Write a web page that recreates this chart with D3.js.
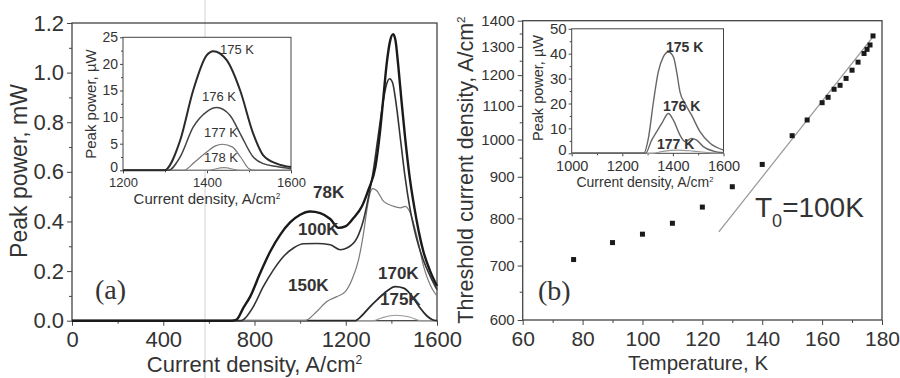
<!DOCTYPE html>
<html><head><meta charset="utf-8">
<script src="https://cdn.jsdelivr.net/npm/d3@7/dist/d3.min.js"></script>
<style>
html,body{margin:0;padding:0;background:#fff;}
text{font-family:"Liberation Sans",Arial,sans-serif;fill:#333;}
</style></head><body>
<svg id="c" width="900" height="378"></svg>
<script>
// ---------- DATA ----------
// Panel (a) main: peak power (mW) vs current density (A/cm2)
const curve78K = [[0,0],[700,0],[722,0.005],[750,0.05],[781,0.097],[825,0.192],[869,0.279],[913,0.347],[956,0.396],[1000,0.427],[1044,0.44],[1088,0.434],[1132,0.41],[1168,0.374],[1198,0.38],[1234,0.414],[1271,0.461],[1300,0.529],[1330,0.62],[1350,0.76],[1365,0.9],[1380,1.04],[1395,1.13],[1408,1.155],[1418,1.13],[1430,1.03],[1445,0.88],[1460,0.74],[1480,0.58],[1500,0.46],[1520,0.36],[1540,0.28],[1570,0.2],[1600,0.14]];
const curve100K = [[0,0],[740,0],[752,0.005],[795,0.057],[839,0.138],[883,0.205],[927,0.259],[971,0.293],[1015,0.31],[1073,0.311],[1132,0.306],[1176,0.286],[1205,0.293],[1249,0.333],[1278,0.407],[1300,0.5],[1320,0.6],[1340,0.73],[1360,0.86],[1378,0.95],[1392,0.975],[1405,0.96],[1420,0.88],[1440,0.73],[1460,0.58],[1480,0.46],[1500,0.37],[1520,0.3],[1540,0.245],[1570,0.18],[1600,0.125]];
const curve150K = [[0,0],[1020,0],[1030,0.003],[1073,0.037],[1117,0.077],[1161,0.097],[1198,0.117],[1227,0.165],[1256,0.245],[1278,0.353],[1293,0.448],[1307,0.515],[1318,0.532],[1335,0.525],[1366,0.481],[1410,0.461],[1439,0.455],[1461,0.461],[1483,0.434],[1512,0.34],[1541,0.22],[1578,0.13],[1600,0.1]];
const curve170K = [[0,0],[1240,0],[1270,0.02],[1307,0.057],[1337,0.084],[1381,0.12],[1417,0.137],[1454,0.131],[1498,0.09],[1527,0.05],[1555,0.02],[1578,0.005],[1600,0]];
const curve175K = [[0,0],[1320,0],[1360,0.012],[1420,0.022],[1480,0.015],[1530,0],[1600,0]];
const mainLabels = ["78K","100K","150K","170K","175K"];

// Panel (a) inset: peak power (uW)
const inA175 = [[1200,0],[1298,0],[1336,5.6],[1367,15],[1399,21.6],[1415,22.4],[1447,20.7],[1479,15],[1510,6.9],[1534,2.8],[1566,1.25],[1600,0.6]];
const inA176 = [[1200,0],[1308,0],[1336,2.5],[1367,8.1],[1399,11],[1423,11.8],[1455,10.3],[1479,6.9],[1510,2.5],[1534,1.25],[1566,0.7],[1600,0.3]];
const inA177 = [[1200,0],[1345,0],[1370,1.5],[1400,3.5],[1420,4.6],[1437,4.9],[1460,4.4],[1480,2.5],[1500,0.3],[1515,0],[1600,0]];
const inA178 = [[1200,0],[1400,0],[1440,0.5],[1480,0],[1600,0]];
const inALabels = ["175 K","176 K","177 K","178 K"];

// Panel (b): threshold current density vs temperature
const temps = [77,90,100,110,120,130,140,150,155,160,162,164,166,168,170,172,174,175,176,177];
const jth   = [712,747,765,789,826,875,932,1011,1057,1110,1127,1153,1166,1189,1217,1245,1276,1291,1307,1341];
const fitLine = [[125.5,770],[177.5,1345]];

// Panel (b) inset
const inB175 = [[1000,0],[1285,0],[1303,6],[1323,20.6],[1342,32.6],[1362,38.7],[1382,40.7],[1402,38.7],[1415,32.6],[1428,24.7],[1448,20],[1474,15.3],[1507,8.7],[1547,4],[1600,1.3]];
const inB176 = [[1000,0],[1292,0],[1316,5.3],[1336,8.7],[1356,12],[1382,16],[1402,13.3],[1428,7.3],[1448,4.7],[1474,6],[1494,5.3],[1520,2.7],[1560,0.9],[1600,0.2]];
const inB177 = [[1000,0],[1320,0],[1360,0.8],[1420,1.3],[1480,0.9],[1540,0.3],[1600,0.1]];
const inBLabels = ["175 K","176 K","177 K"];

// Tick values
const aXTicks = [0,400,800,1200,1600];
const aYTicks = [0,0.2,0.4,0.6,0.8,1.0,1.2];
const aiXTicks = [1200,1400,1600];
const aiYTicks = [0,5,10,15,20,25];
const bXTicks = [60,80,100,120,140,160,180];
const bYTicks = [600,700,800,900,1000,1100,1200,1300,1400];
const biXTicks = [1000,1200,1400,1600];
const biYTicks = [0,10,20,30,40,50];

// ---------- DRAW ----------
const svg = d3.select("#c");
const AX = "#444";

function box(x0,x1,y0,y1,sw){
  svg.append("rect").attr("x",x0).attr("y",y1).attr("width",x1-x0).attr("height",y0-y1)
    .attr("fill","none").attr("stroke",AX).attr("stroke-width",sw);
}
function styleAxis(g,fs){
  g.select(".domain").remove();
  g.selectAll("line").attr("stroke",AX).attr("stroke-width",1);
  g.selectAll("text").attr("font-size",fs).attr("fill","#333").style("font-family","'Liberation Sans',Arial,sans-serif");
}
function drawAxes(xs,ys,xt,yt,xminor,yminor,opt){
  const [x0,x1]=xs.range(), [y0,y1]=ys.range();
  const gxm = svg.append("g").attr("transform",`translate(0,${y0})`)
    .call(d3.axisBottom(xs).tickValues(xminor).tickSize(opt.minor).tickFormat(""));
  styleAxis(gxm,opt.xfs);
  const gym = svg.append("g").attr("transform",`translate(${x0},0)`)
    .call(d3.axisLeft(ys).tickValues(yminor).tickSize(opt.minor).tickFormat(""));
  styleAxis(gym,opt.yfs);
  const gx = svg.append("g").attr("transform",`translate(0,${y0})`)
    .call(d3.axisBottom(xs).tickValues(xt).tickSize(opt.major).tickPadding(opt.xpad).tickFormat(opt.xfmt||d3.format("d")));
  styleAxis(gx,opt.xfs);
  const gy = svg.append("g").attr("transform",`translate(${x0},0)`)
    .call(d3.axisLeft(ys).tickValues(yt).tickSize(opt.major).tickPadding(opt.ypad).tickFormat(opt.yfmt||d3.format("d")));
  styleAxis(gy,opt.yfs);
  if(opt.y0shift){ gy.selectAll(".tick").filter(d=>d===yt[0]).select("text").attr("dy","0.1em"); }
  box(x0,x1,y0,y1,opt.sw);
}
function curve(data,xs,ys,color,w){
  const line = d3.line().x(d=>xs(d[0])).y(d=>ys(d[1])).curve(d3.curveMonotoneX);
  svg.append("path").attr("d",line(data)).attr("fill","none").attr("stroke",color)
    .attr("stroke-width",w).attr("stroke-linejoin","round");
}
function label(x,y,txt,fs,weight,anchor){
  return svg.append("text").attr("x",x).attr("y",y).attr("font-size",fs)
    .attr("font-weight",weight||"normal").attr("text-anchor",anchor||"start").text(txt);
}
function supText(x,y,main,sup,fs,anchor,rot){
  const t = svg.append("text").attr("font-size",fs).attr("text-anchor",anchor||"middle");
  if(rot){ t.attr("transform",`translate(${x},${y}) rotate(-90)`).attr("dy","0.35em"); }
  else { t.attr("x",x).attr("y",y); }
  t.append("tspan").text(main);
  t.append("tspan").attr("font-size",fs*0.55).attr("dy",-fs*0.36).text(sup);
  return t;
}

// scanning artifact line
svg.append("line").attr("x1",205).attr("x2",205).attr("y1",0).attr("y2",378)
  .attr("stroke","#d2d2d2").attr("stroke-width",1);

// ===== Panel (a) =====
const xa = d3.scaleLinear().domain([0,1600]).range([72,437]);
const ya = d3.scaleLinear().domain([0,1.2]).range([320.7,23]);
drawAxes(xa,ya,aXTicks,aYTicks,d3.range(200,1600,400),d3.range(0.1,1.2,0.2),
  {major:5,minor:3,xpad:6,ypad:3,xfs:22,yfs:22,sw:1.3,yfmt:d3.format(".1f")});
curve(curve175K,xa,ya,"#999",1.2);
curve(curve170K,xa,ya,"#2a2a2a",1.8);
curve(curve150K,xa,ya,"#7a7a7a",1.2);
curve(curve100K,xa,ya,"#333",1.6);
curve(curve78K,xa,ya,"#1a1a1a",2.4);
const mainLabelPos = [[313,198],[298,235],[288,291],[378,279],[380,305]];
mainLabels.forEach((t,i)=>label(mainLabelPos[i][0],mainLabelPos[i][1],t,17,"bold"));
label(95,299,"(a)",28).style("font-family","'Liberation Serif','Times New Roman',serif");
supText(254.5,372,"Current density, A/cm","2",22);
svg.append("text").attr("transform","translate(18.5,171) rotate(-90)").attr("dy","0.35em")
  .attr("text-anchor","middle").attr("font-size",23).text("Peak power, mW");

// inset (a)
const xai = d3.scaleLinear().domain([1200,1600]).range([123,291]);
const yai = d3.scaleLinear().domain([0,25]).range([170.3,37.3]);
svg.append("rect").attr("x",123).attr("y",37.3).attr("width",168).attr("height",133).attr("fill","#fff");
drawAxes(xai,yai,aiXTicks,aiYTicks,[1300,1500],d3.range(2.5,25,5),
  {major:3,minor:2,xpad:4,ypad:2,xfs:13,yfs:14,sw:1,y0shift:true});
curve(inA178,xai,yai,"#888",1.1);
curve(inA177,xai,yai,"#777",1.2);
curve(inA176,xai,yai,"#444",1.5);
curve(inA175,xai,yai,"#2a2a2a",2);
const inALabelPos = [[220,53.5],[202,101],[204,137],[204,162]];
inALabels.forEach((t,i)=>label(inALabelPos[i][0],inALabelPos[i][1],t,13));
supText(207,204,"Current density, A/cm","2",15);
svg.append("text").attr("transform","translate(91,104) rotate(-90)").attr("dy","0.35em")
  .attr("text-anchor","middle").attr("font-size",15).text("Peak power, \u00b5W");

// ===== Panel (b) =====
const xb = d3.scaleLinear().domain([60,180]).range([522.7,882]);
const yb = d3.scaleLog().domain([600,1400]).range([320,20.7]);
drawAxes(xb,yb,bXTicks,bYTicks,d3.range(70,180,20),d3.range(650,1400,100),
  {major:5,minor:3,xpad:6,ypad:3,xfs:21,yfs:15,sw:1.3});
const fl = d3.line().x(d=>xb(d[0])).y(d=>yb(d[1]));
svg.append("path").attr("d",fl(fitLine)).attr("fill","none").attr("stroke","#999").attr("stroke-width",1.3);
svg.append("g").selectAll("rect").data(temps).join("rect")
  .attr("x",(d)=>xb(d)-2.5).attr("y",(d,i)=>yb(jth[i])-2.5).attr("width",5).attr("height",5)
  .attr("fill","#1a1a1a");
label(538,300,"(b)",28).style("font-family","'Liberation Serif','Times New Roman',serif");
const t0 = svg.append("text").attr("x",755).attr("y",217).attr("font-size",28);
t0.append("tspan").text("T");
t0.append("tspan").attr("font-size",18).attr("dy",10).text("0");
t0.append("tspan").attr("dy",-10).text("=100K");
svg.append("text").attr("x",698).attr("y",370).attr("text-anchor","middle").attr("font-size",20.5).text("Temperature, K");
supText(465,170,"Threshold current density, A/cm","2",21.5,"middle",true);

// inset (b)
const xbi = d3.scaleLinear().domain([1000,1600]).range([571.7,723.5]);
const ybi = d3.scaleLinear().domain([0,50]).range([153.3,28.8]);
svg.append("rect").attr("x",571.7).attr("y",28.8).attr("width",151.8).attr("height",124.5).attr("fill","#fff");
drawAxes(xbi,ybi,biXTicks,biYTicks,[1100,1300,1500],d3.range(5,50,10),
  {major:3,minor:2,xpad:4,ypad:2,xfs:14.5,yfs:15,sw:1,y0shift:true});
curve(inB177,xbi,ybi,"#999",1.2);
curve(inB176,xbi,ybi,"#666",1.4);
curve(inB175,xbi,ybi,"#666",1.4);
const inBLabelPos = [[666,52],[663,111],[657,149]];
inBLabels.forEach((t,i)=>label(inBLabelPos[i][0],inBLabelPos[i][1],t,14,"bold"));
supText(645,187,"Current density, A/cm","2",14);
svg.append("text").attr("transform","translate(538,88) rotate(-90)").attr("dy","0.35em")
  .attr("text-anchor","middle").attr("font-size",14.5).text("Peak power, \u00b5W");
</script>
</body></html>
